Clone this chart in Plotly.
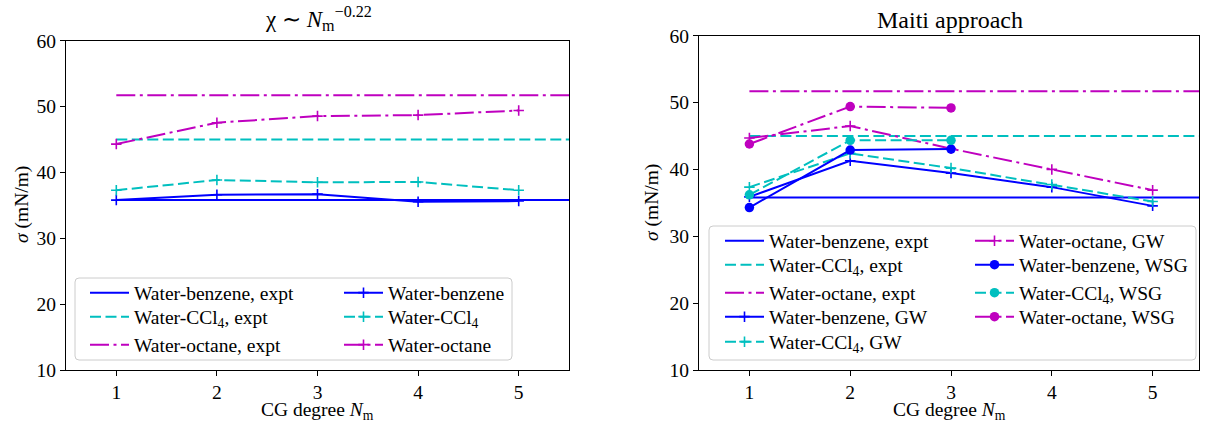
import plotly.graph_objects as go

# ---------------- data ----------------
N_m = [1, 2, 3, 4, 5]
N_m_wsg = [1, 2, 3]
expt_x = [1, 6]

# experimental interfacial tensions (mN/m)
expt_benzene = [35.8, 35.8]
expt_ccl4 = [45.0, 45.0]
expt_octane = [51.7, 51.7]

# left panel: chi ~ N_m^-0.22
chi_benzene = [35.8, 36.6, 36.7, 35.55, 35.65]
chi_ccl4 = [37.3, 38.85, 38.5, 38.55, 37.3]
chi_octane = [44.3, 47.55, 48.55, 48.7, 49.4]

# right panel: Maiti approach
gw_benzene = [35.9, 41.3, 39.45, 37.35, 34.55]
gw_ccl4 = [37.35, 42.4, 40.2, 37.75, 35.2]
gw_octane = [44.7, 46.5, 43.1, 40.0, 36.9]
wsg_benzene = [34.3, 42.9, 43.05]
wsg_ccl4 = [36.2, 44.35, 44.35]
wsg_octane = [43.8, 49.4, 49.2]

x_ticks = [1, 2, 3, 4, 5]
y_ticks = [10, 20, 30, 40, 50, 60]

# ---------------- style ----------------
W, H = 1208, 426
FONT = "Liberation Serif"
FS = 19.5
BLUE, CYAN, MAG = "#0000ff", "#00bfbf", "#bf00bf"
SOLID, DASH, DASHDOT = "solid", "11px,4.5px", "19px,4.5px,3px,4.5px"
LW = 2
ITEMW = 39


def px(x):
    return x / W


def py(y):
    return 1 - y / H


fig = go.Figure()
legend_layout = {}
legend_count = [0]


def add(x, y, color, dash, name, xa, ya, leg_x, leg_y, marker=None):
    legend_count[0] += 1
    k = legend_count[0]
    key = "legend" if k == 1 else f"legend{k}"
    legend_layout[key] = dict(
        x=px(leg_x - ITEMW - 10), y=py(leg_y), xanchor="left", yanchor="middle",
        font=dict(family=FONT, size=FS, color="black"), bgcolor="rgba(0,0,0,0)",
        borderwidth=0, orientation="v", itemwidth=ITEMW,
        itemclick=False, itemdoubleclick=False)
    mode = "lines" if marker is None else "lines+markers"
    m = None
    if marker == "+":
        m = dict(symbol="cross-thin", size=7.5, line=dict(color=color, width=1.6), color=color)
    elif marker == "o":
        m = dict(symbol="circle", size=9.5, color=color, line=dict(width=0))
    fig.add_trace(go.Scatter(
        x=x, y=y, mode=mode, name=name, xaxis=xa, yaxis=ya, legend=key,
        line=dict(color=color, width=LW, dash=dash), marker=m,
        showlegend=True, hoverinfo="skip"))


# left panel (legend text x, row centre y)
add(expt_x, expt_benzene, BLUE, SOLID, "Water-benzene, expt", "x", "y", 134, 293)
add(expt_x, expt_ccl4, CYAN, DASH, "Water-CCl<sub>4</sub>, expt", "x", "y", 134, 317)
add(expt_x, expt_octane, MAG, DASHDOT, "Water-octane, expt", "x", "y", 134, 345)
add(N_m, chi_benzene, BLUE, SOLID, "Water-benzene", "x", "y", 388, 293, "+")
add(N_m, chi_ccl4, CYAN, DASH, "Water-CCl<sub>4</sub>", "x", "y", 388, 317, "+")
add(N_m, chi_octane, MAG, DASHDOT, "Water-octane", "x", "y", 388, 345, "+")

# right panel
add(expt_x, expt_benzene, BLUE, SOLID, "Water-benzene, expt", "x2", "y2", 769, 241)
add(expt_x, expt_ccl4, CYAN, DASH, "Water-CCl<sub>4</sub>, expt", "x2", "y2", 769, 265)
add(expt_x, expt_octane, MAG, DASHDOT, "Water-octane, expt", "x2", "y2", 769, 293)
add(N_m, gw_benzene, BLUE, SOLID, "Water-benzene, GW", "x2", "y2", 769, 317, "+")
add(N_m, gw_ccl4, CYAN, DASH, "Water-CCl<sub>4</sub>, GW", "x2", "y2", 769, 342, "+")
add(N_m, gw_octane, MAG, DASHDOT, "Water-octane, GW", "x2", "y2", 1019, 241, "+")
add(N_m_wsg, wsg_benzene, BLUE, SOLID, "Water-benzene, WSG", "x2", "y2", 1019, 265, "o")
add(N_m_wsg, wsg_ccl4, CYAN, DASH, "Water-CCl<sub>4</sub>, WSG", "x2", "y2", 1019, 293, "o")
add(N_m_wsg, wsg_octane, MAG, DASHDOT, "Water-octane, WSG", "x2", "y2", 1019, 317, "o")

tickfont = dict(family=FONT, size=FS, color="black")
axis_common = dict(showline=True, mirror=True, linecolor="black", linewidth=1,
                   ticks="outside", ticklen=5, tickwidth=1, tickcolor="black",
                   showgrid=False, zeroline=False, tickfont=tickfont,
                   automargin=False, fixedrange=True)


def rounded_box(x0, y0, x1, y1, r=4):
    X0, X1 = px(x0), px(x1)
    Y0, Y1 = py(y1), py(y0)  # bottom, top in paper
    rx, ry = r / W, r / H
    return (f"M{X0+rx},{Y1} L{X1-rx},{Y1} Q{X1},{Y1} {X1},{Y1-ry} "
            f"L{X1},{Y0+ry} Q{X1},{Y0} {X1-rx},{Y0} L{X0+rx},{Y0} "
            f"Q{X0},{Y0} {X0},{Y0+ry} L{X0},{Y1-ry} Q{X0},{Y1} {X0+rx},{Y1} Z")


shapes = [
    dict(type="path", xref="paper", yref="paper", path=rounded_box(75, 278, 512, 360),
         fillcolor="rgba(255,255,255,0.8)", line=dict(color="#cccccc", width=1), layer="above"),
    dict(type="path", xref="paper", yref="paper", path=rounded_box(709, 226, 1196, 360),
         fillcolor="rgba(255,255,255,0.8)", line=dict(color="#cccccc", width=1), layer="above"),
]

txt = dict(family=FONT, size=FS, color="black")
annotations = [
    dict(text="χ ∼ <i>N</i><sub>m</sub><sup>−0.22</sup>", x=px(318), y=py(19), xref="paper", yref="paper",
         showarrow=False, xanchor="center", yanchor="middle", font=dict(family=FONT, size=23, color="black")),
    dict(text="Maiti approach", x=px(950), y=py(20), xref="paper", yref="paper",
         showarrow=False, xanchor="center", yanchor="middle", font=dict(family=FONT, size=24, color="black")),
    dict(text="CG degree <i>N</i><sub>m</sub>", x=px(317.5), y=py(411), xref="paper", yref="paper",
         showarrow=False, xanchor="center", yanchor="middle", font=txt),
    dict(text="CG degree <i>N</i><sub>m</sub>", x=px(949), y=py(411), xref="paper", yref="paper",
         showarrow=False, xanchor="center", yanchor="middle", font=txt),
    dict(text="<i>σ</i> (mN/m)", x=px(22), y=py(205), xref="paper", yref="paper", textangle=-90,
         showarrow=False, xanchor="center", yanchor="middle", font=txt),
    dict(text="<i>σ</i> (mN/m)", x=px(652), y=py(203), xref="paper", yref="paper", textangle=-90,
         showarrow=False, xanchor="center", yanchor="middle", font=txt),
]

fig.update_layout(
    width=W, height=H, margin=dict(l=0, r=0, t=0, b=0),
    paper_bgcolor="white", plot_bgcolor="white",
    font=dict(family=FONT, size=FS, color="black"),
    xaxis=dict(domain=[px(66), px(569)], range=[0.5, 5.5], tickvals=x_ticks, anchor="y", **axis_common),
    yaxis=dict(domain=[py(370), py(40.7)], range=[10, 60], tickvals=y_ticks, anchor="x", **axis_common),
    xaxis2=dict(domain=[px(699), px(1199)], range=[0.5, 5.46], tickvals=x_ticks, anchor="y2", **axis_common),
    yaxis2=dict(domain=[py(370), py(35.7)], range=[10, 60], tickvals=y_ticks, anchor="x2", **axis_common),
    shapes=shapes, annotations=annotations, showlegend=True,
    **legend_layout,
)

fig.write_html("out.html", config={"displayModeBar": False},
               post_script="document.body.style.margin='0';document.body.style.overflow='hidden';")
